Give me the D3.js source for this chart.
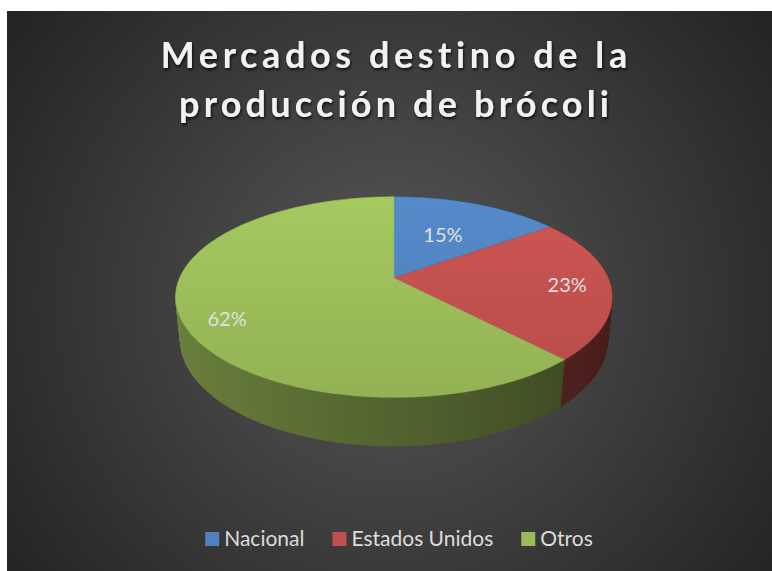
<!DOCTYPE html>
<html>
<head>
<meta charset="utf-8">
<script src="https://cdn.jsdelivr.net/npm/d3@7"></script>
<style>
  body{margin:0;background:#fff;}
  svg{display:block;}
</style>
</head>
<body>
<svg id="chart" width="772" height="571"></svg>
<script>
// data
const categories = ['Nacional', 'Estados Unidos', 'Otros'];
const values = [15, 23, 62];
const colors = ['#4f81bd', '#c0504d', '#9bbb59'];
const titleLines = ['Mercados destino de la', 'producción de brócoli'];

const width = 772, height = 571;
const svg = d3.select('#chart');
const defs = svg.append('defs');

// background
let bg = defs.append('radialGradient')
  .attr('id', 'bg')
  .attr('gradientUnits', 'userSpaceOnUse')
  .attr('cx', 392).attr('cy', 300).attr('r', 470);
bg.append('stop').attr('offset', 0).attr('stop-color', '#575757');
bg.append('stop').attr('offset', 1).attr('stop-color', '#242424');
svg.append('rect')
  .attr('x', 7).attr('y', 11)
  .attr('width', width-7).attr('height', height-11)
  .attr('fill', 'url(#bg)');

// title shadow
let shadow = defs.append('filter').attr('id', 'shadow')
  .attr('x', '-10%').attr('y', '-30%').attr('width', '120%').attr('height', '160%');
shadow.append('feDropShadow')
  .attr('dx', 1).attr('dy', 2).attr('stdDeviation', 1.6)
  .attr('flood-color', '#000').attr('flood-opacity', 0.75);

// title, spaced out to the width of the original
const titleWidths = [467, 430];
const titleBase = [68, 117];
titleLines.forEach(function(line, i){
  let t = svg.append('text')
    .attr('x', 394).attr('y', titleBase[i])
    .attr('text-anchor', 'middle')
    .attr('font-family', 'Lato, "Open Sans", sans-serif')
    .attr('font-weight', 'bold')
    .attr('font-size', '36px')
    .attr('fill', '#f2f2f2')
    .attr('filter', 'url(#shadow)')
    .text(line);
  let natural = t.node().getComputedTextLength();
  let ls = (titleWidths[i] - natural)/(line.length - 1);
  t.attr('letter-spacing', ls + 'px')
   .attr('x', 394 + ls/2);
});

// 3d pie projection
const cx = 394, cy = 278;
const tilt = Math.asin(0.451);
const dist = 4.69, focal = 1005, thick = 0.225;
function proj(phi, r, h){
  let X = r*Math.sin(phi), Z = r*Math.cos(phi);
  let v = Z*Math.sin(tilt) - h*Math.cos(tilt);
  let w = dist + Z*Math.cos(tilt) + h*Math.sin(tilt);
  return [cx + focal*X/w, cy - focal*v/w];
}

const pie = d3.pie().sort(null).value(function(d){ return d; });
const arcs = pie(values);
const line = d3.line();
const step = Math.PI/180;

// side walls, far pieces first
let walls = [];
arcs.forEach(function(a, i){
  let n = Math.max(1, Math.ceil((a.endAngle - a.startAngle)/step));
  for(let k = 0; k < n; k++){
    let p0 = a.startAngle + (a.endAngle - a.startAngle)*k/n;
    let p1 = a.startAngle + (a.endAngle - a.startAngle)*(k+1)/n;
    let mid = (p0 + p1)/2;
    walls.push({i: i, p0: p0, p1: p1, depth: Math.cos(mid), mid: mid});
  }
});
walls.sort(function(a, b){ return b.depth - a.depth; });
const sideShade = function(phi){
  return 0.53 + 0.17*Math.sin(phi - Math.PI);
};
const wallColor = function(d){
  let c = d3.rgb(colors[d.i]), s = sideShade(d.mid);
  return d3.rgb(c.r*s, c.g*s, c.b*s).toString();
};
svg.append('g').selectAll('path')
  .data(walls)
  .enter()
  .append('path')
  .attr('d', function(d){
    return line([proj(d.p0, 1, 0), proj(d.p1, 1, 0), proj(d.p1, 1, thick), proj(d.p0, 1, thick)]) + 'Z';
  })
  .attr('fill', wallColor)
  .attr('stroke', wallColor)
  .attr('stroke-width', 0.8);

// top faces
arcs.forEach(function(a, i){
  let g = defs.append('linearGradient')
    .attr('id', 'top' + i)
    .attr('gradientUnits', 'userSpaceOnUse')
    .attr('x1', 0).attr('y1', 195).attr('x2', 0).attr('y2', 400);
  g.append('stop').attr('offset', 0).attr('stop-color', d3.rgb(colors[i]).brighter(0.2));
  g.append('stop').attr('offset', 1).attr('stop-color', d3.rgb(colors[i]).darker(0.15));
});
svg.append('g').selectAll('path')
  .data(arcs)
  .enter()
  .append('path')
  .attr('d', function(a){
    let pts = [proj(0, 0, 0)];
    let n = Math.max(2, Math.ceil((a.endAngle - a.startAngle)/step));
    for(let k = 0; k <= n; k++){
      pts.push(proj(a.startAngle + (a.endAngle - a.startAngle)*k/n, 1, 0));
    }
    return line(pts) + 'Z';
  })
  .attr('fill', function(a, i){ return 'url(#top' + i + ')'; })
  .attr('stroke', function(a, i){ return d3.rgb(colors[i]).darker(0.05); })
  .attr('stroke-width', 0.5);

// data labels
const labelR = [0.55, 0.8, 0.82];
const labelShift = [0, 0, -0.12];
const total = d3.sum(values);
svg.append('g').selectAll('text')
  .data(arcs)
  .enter()
  .append('text')
  .attr('x', function(a, i){ return proj((a.startAngle + a.endAngle)/2 + labelShift[i], labelR[i], 0)[0]; })
  .attr('y', function(a, i){ return proj((a.startAngle + a.endAngle)/2 + labelShift[i], labelR[i], 0)[1]; })
  .attr('dy', '0.35em')
  .attr('text-anchor', 'middle')
  .attr('font-family', 'Lato, "Open Sans", sans-serif')
  .attr('font-size', '20px')
  .attr('fill', '#e0e0e0')
  .text(function(a){ return Math.round(a.value/total*100) + '%'; });

// legend
const legend = svg.append('g');
let items = legend.selectAll('g')
  .data(categories)
  .enter()
  .append('g');
items.append('rect')
  .attr('width', 14).attr('height', 14)
  .attr('y', -14)
  .attr('fill', function(d, i){ return colors[i]; });
items.append('text')
  .attr('x', 19).attr('y', 0)
  .attr('font-family', 'Lato, "Open Sans", sans-serif')
  .attr('font-size', '21px')
  .attr('fill', '#dcdcdc')
  .text(function(d){ return d; });
let xpos = 0;
items.each(function(){
  let w = this.getBBox().width;
  d3.select(this).attr('transform', 'translate(' + xpos + ',0)');
  xpos += w + 28;
});
let legendW = xpos - 28;
legend.attr('transform', 'translate(' + (399 - legendW/2) + ',546)');
</script>
</body>
</html>
